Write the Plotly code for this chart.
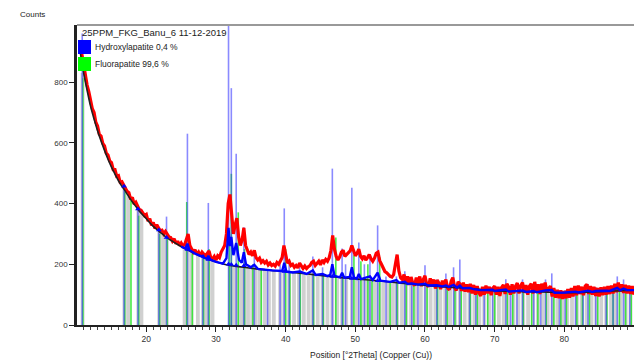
import plotly.graph_objects as go

# ---------------- data ----------------
obs_start_a = 10.5
obs_counts_a = [
    925, 890, 850, 828, 790, 768, 738, 712, 700, 668, 655, 628, 622, 598, 590, 566, 560, 540,
    535, 512, 512, 490, 492, 470, 472, 462, 448, 440, 436, 414, 420, 398, 404, 392, 380, 378,
    368, 360, 364, 342, 350, 328, 338, 318, 330, 322, 310, 312, 300, 308, 296, 290, 288, 276,
    284, 268, 276, 262, 270, 260, 264, 285, 300, 262, 250, 240, 248, 232, 240, 228, 240, 234,
    226, 236, 244, 222, 218, 226, 214, 228, 222, 240, 250, 262, 300, 400, 430, 370, 300, 330,
    352, 290, 262, 280, 320, 262, 244, 232, 240, 228, 246, 222, 214, 220, 206, 212, 204, 210,
    198, 204, 196, 200, 194, 206, 200, 212, 222, 262, 230, 204, 210, 196, 200, 190, 196, 188,
    204, 192, 186, 194, 186, 192, 196, 206, 210, 196, 204, 210, 198, 214, 206, 216, 210, 222,
    246, 295, 250, 226, 214, 224, 240, 246, 226, 232, 238, 244, 262, 240, 228, 236, 250, 226,
    218, 228, 214, 222, 232, 218, 210, 220, 236, 240, 212, 200, 186, 176, 172, 166, 160, 158,
    166, 200, 232, 178, 156, 150,
]
obs_start_b = 57.0
obs_counts_b = [
    166, 140, 160, 132, 158, 138, 130, 156, 134, 160, 128, 150, 162, 132, 126, 154, 128, 150,
    120, 148, 138, 118, 146, 124, 150, 122, 116, 144, 156, 124, 114, 142, 136, 112, 140, 110,
    134, 108, 136, 104, 132, 100, 128, 106, 96, 126, 100, 130, 104, 126, 98, 122, 128, 100,
    126, 96, 124, 132, 102, 136, 126, 100, 134, 104, 128, 138, 104, 130, 140, 106, 132, 100,
    128, 136, 104, 142, 108, 134, 102, 136, 110, 140, 108, 120, 128, 94, 122, 90, 116, 88,
    114, 86, 112, 88, 118, 90, 122, 94, 128, 98, 130, 102, 126, 98, 128, 134, 102, 128,
    100, 126, 96, 122, 94, 124, 98, 126, 100, 128, 102, 130, 104, 136, 108, 140, 110, 134,
    106, 132, 104, 130, 102, 128, 100,
]
obs_step = 0.25
obs_pos = ([obs_start_a + i * obs_step for i in range(len(obs_counts_a))]
           + [obs_start_b + i * obs_step for i in range(len(obs_counts_b))])
obs_counts = obs_counts_a + obs_counts_b

bg_pos = [10.5, 11, 11.5, 12, 12.5, 13, 13.5, 14, 14.5, 15, 15.5, 16, 16.5, 17, 17.5, 18, 18.5,
          19, 19.5, 20, 20.5, 21, 21.5, 22, 22.5, 23, 23.5, 24, 24.5, 25, 25.5, 26, 26.5, 27,
          27.5, 28, 28.5, 29, 29.5, 30, 31, 32, 33, 34, 35, 36, 38, 40, 42, 44, 46, 48, 50, 52,
          54, 56, 58, 60, 62, 64, 66, 68, 70, 72, 74, 76, 78, 80, 82, 84, 86, 88, 90]
bg_counts = [900, 830, 773, 720, 678, 640, 606, 575, 546, 520, 497, 475, 457, 440, 422, 405, 390,
             375, 362, 350, 337, 325, 315, 305, 296, 287, 279, 272, 265, 258, 252, 246, 240, 235,
             230, 225, 220, 216, 212, 208, 201, 196, 193, 190, 187, 184, 180, 176, 171, 166, 161,
             156, 152, 148, 144, 139, 135, 131, 127, 124, 121, 117, 113, 111, 110, 109, 108, 106,
             107, 109, 111, 113, 115]

calc_pos = [25.0, 25.6, 25.9, 26.2, 27.0, 28.0, 28.1, 28.3, 28.7, 28.9, 29.2, 30.0, 31.0, 31.5,
            31.8, 32.0, 32.2, 32.5, 32.9, 33.3, 33.7, 34.0, 34.3, 35.0, 35.5, 36.0, 38.0, 39.5,
            39.8, 40.1, 41.0, 42.0, 43.0, 43.9, 44.3, 45.3, 46.0, 46.4, 46.7, 47.0, 47.8, 48.1,
            48.4, 49.2, 49.5, 49.8, 50.2, 50.5, 50.8, 51.3, 52.1, 52.5, 53.2, 53.6, 55.0, 55.9,
            56.3, 57.1, 57.5, 58.1, 59.0, 60.0, 60.4, 61.7, 62.5, 63.0, 63.4, 64.1, 64.6, 65.0,
            65.4, 66.4, 67.0, 68.0, 69.7, 70.0, 71.6, 72.0, 74.0, 74.5, 75.6, 76.0, 77.3, 78.2,
            78.6, 80.1, 81.6, 82.0, 83.4, 84.0, 84.5, 86.0, 86.5, 87.6, 88.0, 88.5, 89.0, 90.0]
calc_counts = [258, 252, 268, 246, 235, 225, 230, 221, 218, 228, 215, 208, 202, 220,
               320, 260, 290, 230, 270, 215, 205, 240, 200, 190, 198, 185, 180, 178,
               205, 176, 173, 176, 168, 180, 165, 168, 161, 165, 200, 162, 157, 172,
               156, 158, 190, 157, 152, 168, 151, 154, 160, 148, 172, 146, 142, 148,
               139, 142, 135, 137, 133, 136, 130, 131, 127, 130, 125, 132, 123, 130,
               121, 122, 118, 115, 116, 112, 117, 110, 114, 109, 112, 108, 114, 115,
               106, 107, 110, 107, 113, 109, 112, 113, 112, 122, 114, 120, 115, 115]

hap_pos = [10.8, 16.8, 18.8, 21.8, 22.9, 25.9, 28.1, 28.9, 31.8, 32.2, 32.9, 34.0, 35.5, 37.4,
           39.2, 39.8, 40.5, 42.0, 43.9, 45.3, 46.7, 48.1, 48.6, 49.5, 50.5, 51.3, 52.1, 53.2,
           54.4, 55.9, 57.1, 58.1, 59.0, 60.0, 61.7, 63.0, 64.1, 65.0, 66.4, 67.3, 68.5, 69.7,
           71.6, 72.3, 73.2, 74.0, 75.6, 76.6, 77.3, 78.2, 79.3, 80.1, 81.6, 82.7, 83.4, 84.5,
           86.0, 87.0, 87.6, 88.5, 89.4]
hap_counts = [960, 455, 385, 315, 357, 630, 240, 402, 1000, 780, 564, 322, 230, 182,
              200, 384, 200, 190, 226, 190, 515, 252, 200, 452, 272, 200, 223, 328,
              160, 160, 177, 150, 140, 197, 150, 170, 190, 216, 130, 120, 118, 125,
              151, 125, 112, 150, 130, 110, 150, 170, 108, 115, 120, 108, 135, 125,
              120, 112, 160, 150, 112]

fap_pos = [10.9, 16.9, 17.8, 18.9, 21.9, 23.0, 25.8, 26.6, 28.2, 29.0, 31.9, 32.2, 33.2, 34.1,
           35.3, 36.5, 40.0, 40.6, 42.1, 44.0, 45.4, 47.2, 48.2, 49.8, 50.8, 51.8, 52.4, 53.5,
           55.0, 56.0, 57.3, 58.4, 60.3, 61.8, 63.2, 64.3, 65.2, 66.5, 67.5, 69.0, 70.0, 71.8,
           72.6, 74.1, 75.3, 76.2, 77.4, 78.5, 79.5, 80.3, 81.8, 82.6, 83.6, 84.8, 86.1, 87.0,
           87.9, 88.8, 89.6]
fap_counts = [813, 440, 410, 360, 300, 290, 405, 240, 220, 250, 300, 498, 371, 250,
              200, 184, 250, 176, 180, 166, 162, 288, 170, 230, 210, 200, 148, 223,
              142, 139, 136, 134, 131, 127, 125, 124, 122, 121, 119, 116, 114, 112,
              111, 110, 109, 109, 108, 107, 107, 106, 107, 108, 109, 110, 111, 112,
              113, 114, 115]

grey_pos = [10.85, 16.85, 17.4, 18.85, 19.3, 21.85, 22.4, 22.95, 25.5, 25.95, 26.5, 27.4,
            28.15, 28.6, 28.95, 29.5, 32.0, 32.5, 33.0, 33.6, 34.05, 34.6, 35.2, 35.7, 36.3,
            37.0, 37.6, 38.3, 39.2, 39.8, 40.5, 41.2, 41.9, 42.6, 43.3, 43.9, 44.6, 45.3,
            46.0, 46.7, 47.4, 48.1, 48.7, 49.5, 50.2, 50.9, 51.5, 52.1, 52.8, 53.4, 54.0,
            54.7, 55.4, 56.0, 56.7, 57.3, 58.0, 58.7, 59.4, 60.1, 60.8, 61.5, 62.2, 62.9,
            63.6, 64.3, 65.0, 65.7, 66.4, 67.1, 67.8, 68.5, 69.2, 69.9, 70.6, 71.3, 72.0,
            72.7, 73.4, 74.1, 74.8, 75.5, 76.2, 76.9, 77.6, 78.3, 79.0, 79.7, 80.4, 81.1,
            81.8, 82.5, 83.2, 83.9, 84.6, 85.3, 86.0, 86.7, 87.4, 88.1, 88.8, 89.5]
grey_counts = [830, 450, 432, 385, 372, 308, 298, 287, 250, 246, 240, 232,
               225, 220, 216, 212, 196, 195, 193, 192, 190, 188, 187, 185, 184,
               183, 181, 180, 178, 176, 175, 174, 172, 170, 168, 166, 165, 163,
               161, 160, 158, 156, 155, 153, 152, 151, 149, 148, 147, 145, 144,
               142, 141, 139, 138, 136, 135, 134, 132, 131, 130, 128, 127, 126,
               125, 124, 123, 122, 121, 120, 118, 117, 116, 115, 113, 112, 111,
               111, 110, 110, 109, 109, 108, 108, 107, 107, 106, 106, 106, 107,
               107, 108, 108, 109, 110, 110, 111, 112, 113, 113, 114, 115]

marker_pos = [16.8, 18.8, 21.8, 22.9, 25.9, 28.9, 31.8, 32.2, 32.9, 34.0, 39.8, 46.7, 49.5, 53.2]
marker_counts = [457, 382, 313, 288, 249, 216, 200, 199, 197, 195, 176, 160, 153, 146]

x_ticks = [20, 30, 40, 50, 60, 70, 80]
y_ticks = [0, 200, 400, 600, 800]

sample_name = "25PPM_FKG_Banu_6 11-12-2019"
phase_labels = ["Hydroxylapatite 0,4 %", "Fluorapatite 99,6 %"]
phase_colors = ["#0000ff", "#00ff00"]


def sticks(pos, h):
    xs, ys = [], []
    for p, v in zip(pos, h):
        xs += [p, p, None]
        ys += [0, v, None]
    return xs, ys


fig = go.Figure()

fig.add_trace(go.Bar(x=grey_pos, y=grey_counts, width=0.55,
                     marker=dict(color="rgba(200,200,200,0.85)", line=dict(width=0)),
                     hoverinfo="skip"))

hx, hy = sticks(hap_pos, hap_counts)
fx, fy = sticks(fap_pos, fap_counts)
fig.add_trace(go.Scatter(x=fx, y=fy, mode="lines",
                         line=dict(color="rgba(40,230,40,0.85)", width=1.6), hoverinfo="skip"))
fig.add_trace(go.Scatter(x=hx, y=hy, mode="lines",
                         line=dict(color="rgba(60,60,255,0.6)", width=1.6), hoverinfo="skip"))

fig.add_trace(go.Scatter(x=obs_pos, y=obs_counts, mode="lines",
                         line=dict(color="#ff0000", width=3.2), hoverinfo="skip"))
fig.add_trace(go.Scatter(x=bg_pos, y=bg_counts, mode="lines", line_shape="spline",
                         line=dict(color="#202020", width=1.6), hoverinfo="skip"))
fig.add_trace(go.Scatter(x=calc_pos, y=calc_counts, mode="lines",
                         line=dict(color="#0000ff", width=2.4), hoverinfo="skip"))
fig.add_trace(go.Scatter(x=marker_pos, y=marker_counts, mode="markers",
                         marker=dict(color="#0000ff", size=5, symbol="triangle-up"),
                         hoverinfo="skip"))

W, H = 634, 364
L, R, T, B = 77, 0, 25, 39
pw, ph = W - L - R, H - T - B


def px(xp):
    return (xp - L) / pw


def py(yp):
    return 1 - (yp - T) / ph


fig.add_shape(type="rect", xref="paper", yref="paper", x0=px(78), x1=px(91), y0=py(54), y1=py(40),
              fillcolor=phase_colors[0], line=dict(width=0), layer="above")
fig.add_shape(type="rect", xref="paper", yref="paper", x0=px(78), x1=px(91), y0=py(71), y1=py(57),
              fillcolor=phase_colors[1], line=dict(width=0), layer="above")
fig.add_shape(type="line", xref="paper", yref="paper", x0=0, x1=1, y0=1, y1=1,
              line=dict(color="#999999", width=2), layer="above")

font = "Liberation Sans, Arial, sans-serif"
fig.add_annotation(xref="paper", yref="paper", x=px(80), y=py(33), text=sample_name,
                   showarrow=False, xanchor="left", yanchor="middle",
                   font=dict(family=font, size=9.5, color="#222"))
fig.add_annotation(xref="paper", yref="paper", x=px(93), y=py(47), text=phase_labels[0],
                   showarrow=False, xanchor="left", yanchor="middle",
                   font=dict(family=font, size=8.5, color="#222"))
fig.add_annotation(xref="paper", yref="paper", x=px(93), y=py(64), text=phase_labels[1],
                   showarrow=False, xanchor="left", yanchor="middle",
                   font=dict(family=font, size=8.5, color="#222"))
fig.add_annotation(xref="paper", yref="paper", x=px(18), y=py(15), text="Counts",
                   showarrow=False, xanchor="left", yanchor="middle",
                   font=dict(family=font, size=8, color="#222"))
fig.add_annotation(xref="paper", yref="paper", x=px(371), y=py(355),
                   text="Position [°2Theta] (Copper (Cu))",
                   showarrow=False, xanchor="center", yanchor="middle",
                   font=dict(family=font, size=8.5, color="#222"))

fig.update_layout(
    width=W, height=H,
    margin=dict(l=L, r=R, t=T, b=B),
    paper_bgcolor="white", plot_bgcolor="white",
    showlegend=False, barmode="overlay",
    font=dict(family=font, size=8, color="#333"),
)
fig.update_xaxes(range=[10.05, 90.0], tickvals=x_ticks, ticks="outside", ticklen=5,
                 tickcolor="#222", showgrid=False, zeroline=False, showline=True,
                 linecolor="#222", linewidth=1.5,
                 minor=dict(dtick=1, tick0=0, ticks="outside", ticklen=3, tickcolor="#444"),
                 tickfont=dict(size=8.5))
fig.update_yaxes(range=[0, 988], tickvals=y_ticks, ticks="outside", ticklen=5,
                 tickcolor="#222", showgrid=False, zeroline=False, showline=True,
                 linecolor="#222", linewidth=2.5, tickfont=dict(size=8))

fig.write_html("out.html")
